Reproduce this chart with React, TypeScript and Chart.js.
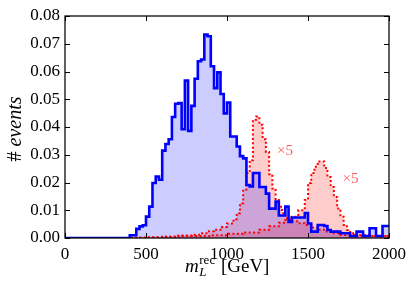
import React, { useEffect, useRef } from 'react';
import { Chart, registerables } from 'chart.js';

Chart.register(...registerables);

const X_MIN = 0;
const X_MAX = 2000;
const Y_MAX = 0.08;

// Blue histogram: left edges of each step and the bin value
const blueStarts = [0, 400, 440, 460, 480, 500, 520, 540, 560, 580, 600, 620, 640, 660, 680, 700, 720, 740, 760, 780, 800, 820, 840, 860, 880, 900, 920, 940, 960, 980, 1000, 1020, 1060, 1080, 1100, 1120, 1140, 1160, 1200, 1240, 1260, 1300, 1320, 1360, 1380, 1400, 1480, 1500, 1520, 1560, 1600, 1620, 1640, 1700, 1760, 1800, 1840, 1880, 1920, 1960];
const blueValues = [0, 0.001, 0.0033, 0.0042, 0.0046, 0.0077, 0.0113, 0.0198, 0.0221, 0.021, 0.0315, 0.0339, 0.0356, 0.0436, 0.0484, 0.0486, 0.0392, 0.0567, 0.0386, 0.0476, 0.0574, 0.0637, 0.0643, 0.0733, 0.0727, 0.0619, 0.054, 0.0597, 0.0519, 0.0449, 0.0488, 0.0366, 0.033, 0.0295, 0.0287, 0.0191, 0.0186, 0.0234, 0.0184, 0.016, 0.0106, 0.0131, 0.0081, 0.0113, 0.0058, 0.0074, 0.009, 0.0052, 0.0023, 0.0047, 0.0043, 0.0029, 0.0023, 0.0017, 0.0007, 0.0023, 0.0007, 0.0035, 0.0007, 0.0043];

// Red histogram 1 (peak near 1200, scaled x5)
const red1Starts = [0, 400, 600, 700, 800, 840, 880, 920, 960, 1000, 1040, 1060, 1080, 1100, 1120, 1140, 1160, 1180, 1200, 1220, 1240, 1260, 1280, 1300, 1320, 1340, 1360, 1400, 1440, 1480, 1520, 1560, 1600, 1640, 1700, 1800];
const red1Values = [0, 0.0002, 0.0005, 0.0009, 0.0012, 0.0017, 0.0024, 0.003, 0.004, 0.0052, 0.0068, 0.0089, 0.0125, 0.0175, 0.0234, 0.028, 0.0426, 0.0438, 0.0408, 0.0356, 0.031, 0.023, 0.0178, 0.0137, 0.0113, 0.0089, 0.0071, 0.006, 0.0053, 0.0047, 0.0038, 0.003, 0.0023, 0.0017, 0.0011, 0.0007];

// Red histogram 2 (peak near 1600, scaled x5)
const red2Starts = [0, 500, 700, 900, 1000, 1100, 1200, 1260, 1320, 1360, 1400, 1440, 1480, 1500, 1520, 1540, 1560, 1600, 1620, 1640, 1660, 1680, 1700, 1720, 1740, 1760, 1800, 1880];
const red2Values = [0, 0.0003, 0.0007, 0.001, 0.0015, 0.002, 0.003, 0.0042, 0.0055, 0.0065, 0.0077, 0.01, 0.0137, 0.0198, 0.0234, 0.0257, 0.0276, 0.0252, 0.022, 0.0184, 0.0148, 0.0106, 0.0077, 0.0047, 0.0029, 0.0017, 0.0011, 0.0007];

const xTicks = [0, 500, 1000, 1500, 2000];
const yTicks = [0, 0.01, 0.02, 0.03, 0.04, 0.05, 0.06, 0.07, 0.08];

const noteX = [1358, 1762];
const noteY = [0.0314, 0.0213];
const noteText = ['×5', '×5'];

const FAM = "'Liberation Serif', 'Times New Roman', serif";

function toSteps(starts: number[], values: number[]) {
  const pts = starts.map((s, i) => ({ x: s, y: values[i] }));
  pts.push({ x: X_MAX, y: values[values.length - 1] });
  return pts;
}

const decorPlugin = {
  id: 'decor',
  afterDatasetsDraw(chart: any) {
    const { ctx, chartArea: a, scales } = chart;
    const sx = scales.x;
    const sy = scales.y;
    ctx.save();

    // annotations
    ctx.fillStyle = 'rgba(255,40,40,0.75)';
    ctx.font = `15px ${FAM}`;
    ctx.textAlign = 'center';
    ctx.textBaseline = 'middle';
    noteText.forEach((t, i) => {
      ctx.fillText(t, sx.getPixelForValue(noteX[i]), sy.getPixelForValue(noteY[i]));
    });

    // inward ticks on all four sides
    ctx.strokeStyle = '#000';
    ctx.lineWidth = 1;
    ctx.beginPath();
    xTicks.forEach((v) => {
      const px = Math.round(sx.getPixelForValue(v)) + 0.5;
      ctx.moveTo(px, a.bottom);
      ctx.lineTo(px, a.bottom - 5);
      ctx.moveTo(px, a.top);
      ctx.lineTo(px, a.top + 5);
    });
    yTicks.forEach((v) => {
      const py = Math.round(sy.getPixelForValue(v)) + 0.5;
      ctx.moveTo(a.left, py);
      ctx.lineTo(a.left + 5, py);
      ctx.moveTo(a.right, py);
      ctx.lineTo(a.right - 5, py);
    });
    ctx.stroke();

    // frame
    ctx.lineWidth = 1.25;
    ctx.strokeRect(a.left, a.top, a.right - a.left, a.bottom - a.top);

    // x title: m_L^rec [GeV]
    ctx.fillStyle = '#000';
    ctx.textAlign = 'left';
    ctx.textBaseline = 'alphabetic';
    const big = `19px ${FAM}`;
    const bigIt = `italic 19px ${FAM}`;
    const small = `13px ${FAM}`;
    const smallIt = `italic 13px ${FAM}`;
    ctx.font = bigIt;
    const wm = ctx.measureText('m').width;
    ctx.font = smallIt;
    const wL = ctx.measureText('L').width;
    ctx.font = small;
    const wr = ctx.measureText('rec').width;
    ctx.font = big;
    const wg = ctx.measureText(' [GeV]').width;
    const wmid = Math.max(wL, wr) + 1;
    const total = wm + wmid + wg;
    const cx = (a.left + a.right) / 2;
    const by = 272;
    let x0 = cx - total / 2;
    ctx.font = bigIt;
    ctx.fillText('m', x0, by);
    x0 += wm + 0.5;
    ctx.font = smallIt;
    ctx.fillText('L', x0, by + 4);
    ctx.font = small;
    ctx.fillText('rec', x0, by - 8);
    x0 += wmid;
    ctx.font = big;
    ctx.fillText(' [GeV]', x0, by);

    // y title: # events
    ctx.translate(16, (a.top + a.bottom) / 2 + 2);
    ctx.rotate(-Math.PI / 2);
    ctx.textBaseline = 'middle';
    const yt = `20px ${FAM}`;
    const ytIt = `italic 20px ${FAM}`;
    ctx.font = yt;
    const wh = ctx.measureText('# ').width;
    ctx.font = ytIt;
    const we = ctx.measureText('events').width;
    const sx0 = -(wh + we) / 2;
    ctx.font = yt;
    ctx.fillText('# ', sx0, 0);
    ctx.font = ytIt;
    ctx.fillText('events', sx0 + wh, 0);

    ctx.restore();
  },
};

export default function App() {
  const canvasRef = useRef<HTMLCanvasElement | null>(null);

  useEffect(() => {
    const canvas = canvasRef.current;
    if (!canvas) return;
    const lineBase = {
      pointRadius: 0,
      pointHoverRadius: 0,
      stepped: true,
      fill: 'origin',
      tension: 0,
    };
    const chart = new Chart(canvas, {
      type: 'line',
      data: {
        datasets: [
          {
            ...lineBase,
            label: 'blue',
            data: toSteps(blueStarts, blueValues),
            borderColor: '#0000ff',
            backgroundColor: 'rgba(0,0,255,0.2)',
            borderWidth: 2.6,
            borderJoinStyle: 'miter',
          },
          {
            ...lineBase,
            label: 'red1',
            data: toSteps(red1Starts, red1Values),
            borderColor: '#ff0000',
            backgroundColor: 'rgba(255,0,0,0.2)',
            borderWidth: 2,
            borderDash: [2, 2.4],
          },
          {
            ...lineBase,
            label: 'red2',
            data: toSteps(red2Starts, red2Values),
            borderColor: '#ff0000',
            backgroundColor: 'rgba(255,0,0,0.2)',
            borderWidth: 2,
            borderDash: [2, 2.4],
          },
        ] as any,
      },
      options: {
        animation: false,
        responsive: true,
        maintainAspectRatio: false,
        devicePixelRatio: 1,
        font: { family: FAM, size: 16 },
        layout: { padding: { top: 16, right: 26, left: 0, bottom: 0 } },
        plugins: {
          legend: { display: false },
          tooltip: { enabled: false },
          filler: { drawTime: 'beforeDatasetsDraw' },
        } as any,
        scales: {
          x: {
            type: 'linear',
            min: X_MIN,
            max: X_MAX,
            grid: { display: false, drawTicks: false },
            border: { display: false },
            ticks: {
              stepSize: 500,
              padding: 6,
              color: '#000',
              font: { family: FAM, size: 17 },
              maxRotation: 0,
              callback: (v: any) => String(v),
            },
            afterFit: (s: any) => {
              s.height = 53;
            },
          },
          y: {
            type: 'linear',
            min: 0,
            max: Y_MAX,
            grid: { display: false, drawTicks: false },
            border: { display: false },
            ticks: {
              stepSize: 0.01,
              padding: 5,
              color: '#000',
              font: { family: FAM, size: 17 },
              callback: (v: any) => Number(v).toFixed(2),
            },
            afterFit: (s: any) => {
              s.width = 65;
            },
          },
        },
      } as any,
      plugins: [decorPlugin],
    });
    return () => chart.destroy();
  }, []);

  return (
    <div style={{ position: 'absolute', left: 0, top: 0, width: 415, height: 291 }}>
      <canvas ref={canvasRef} />
    </div>
  );
}
